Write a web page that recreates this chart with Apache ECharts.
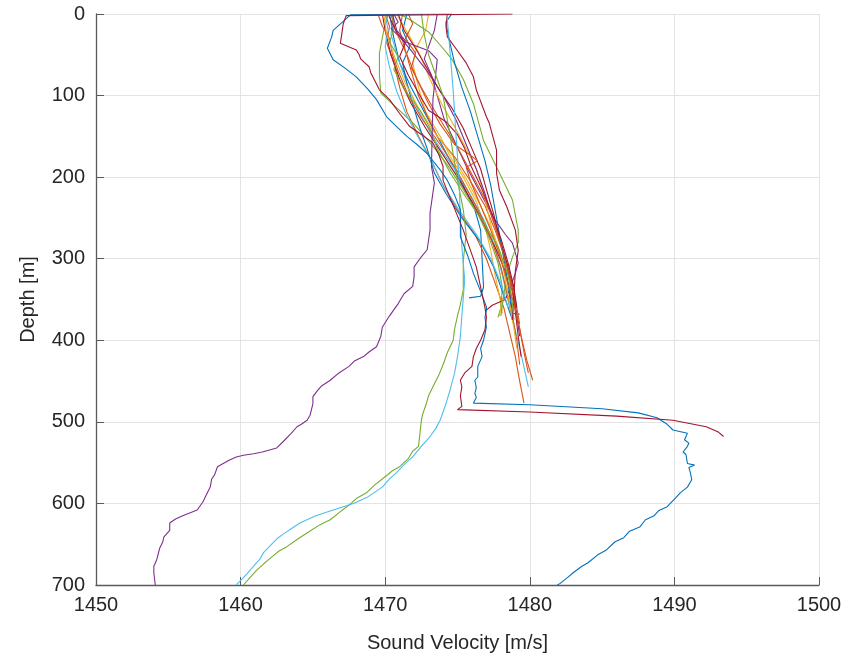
<!DOCTYPE html>
<html>
<head>
<meta charset="utf-8">
<script src="https://cdn.jsdelivr.net/npm/echarts@6/dist/echarts.min.js"></script>
<style>
html,body{margin:0;padding:0;background:#fff;}
#chart{width:849px;height:660px;}
</style>
</head>
<body>
<div id="chart"></div>
<script>
// Axis ticks
const xTicks = [1450, 1460, 1470, 1480, 1490, 1500];
const yTicks = [0, 100, 200, 300, 400, 500, 600, 700];

// MATLAB default colour order
const palette = ['#0072BD', '#D95319', '#EDB120', '#7E2F8E', '#77AC30', '#4DBEEE', '#A2142F'];

// Profiles: [sound velocity (m/s), depth (m)]
const blueLong = [[1474.6,0],[1467.6,1],[1466.4,20],[1466.3,28],[1466.0,42],[1466.4,56],[1467.2,66],[1468.0,77],[1468.8,92],[1469.4,105],[1470.1,126],[1470.9,140],[1471.5,150],[1472.2,160],[1472.9,171],[1473.8,191],[1474.3,204],[1474.8,222],[1475.2,240],[1475.2,273],[1475.7,296],[1476.1,318],[1476.6,340],[1477.0,359],[1477.0,363],[1476.9,372],[1477.0,384],[1476.8,400],[1476.6,410],[1476.7,420],[1476.4,432],[1476.4,445],[1476.2,449],[1476.3,458],[1476.2,465],[1476.3,470],[1476.1,477],[1480.0,479],[1485.0,484],[1487.5,489],[1488.8,495],[1489.5,503],[1489.9,510],[1490.9,514],[1490.7,522],[1491.0,526],[1490.9,530],[1490.6,537],[1490.8,540],[1490.9,551],[1491.4,553],[1491.0,556],[1491.1,562],[1491.2,571],[1490.9,580],[1490.4,587],[1490.1,593],[1489.5,604],[1488.9,609],[1488.6,615],[1488.0,620],[1487.6,629],[1486.9,634],[1486.5,642],[1485.9,647],[1485.3,657],[1484.7,663],[1484.0,673],[1483.6,677],[1483.0,685],[1482.6,691],[1482.1,698],[1481.9,700]];
const redLong = [[1478.8,0],[1467.3,2],[1467.1,12],[1467.0,24],[1466.9,36],[1468.0,44],[1468.2,50],[1468.3,55],[1468.9,65],[1469.0,72],[1469.6,93],[1470.3,105],[1471.0,122],[1471.7,138],[1472.6,149],[1473.3,158],[1473.7,172],[1474.0,187],[1474.0,204],[1475.4,265],[1476.3,310],[1476.9,360],[1477.0,372],[1476.9,387],[1476.6,400],[1476.3,410],[1476.1,420],[1476.0,432],[1475.5,440],[1475.3,446],[1475.2,449],[1475.3,457],[1475.2,468],[1475.3,481],[1475.0,485],[1480.0,488],[1486.0,493],[1489.9,498],[1492.2,506],[1493.0,512],[1493.4,518]];
const purpleLong = [[1470.5,0],[1470.8,20],[1471.5,35],[1473.0,45],[1473.6,56],[1473.3,105],[1473.2,187],[1473.4,207],[1473.1,244],[1473.1,265],[1472.9,289],[1472.4,300],[1472.0,310],[1472.0,322],[1471.9,334],[1471.3,343],[1470.9,355],[1470.3,370],[1469.8,384],[1469.7,395],[1469.4,408],[1468.9,414],[1468.5,420],[1467.9,425],[1467.5,432],[1466.8,440],[1466.2,449],[1465.6,456],[1465.3,462],[1465.0,469],[1465.0,478],[1464.9,485],[1464.8,492],[1464.6,498],[1464.2,503],[1463.9,506],[1463.5,514],[1462.9,525],[1462.5,532],[1461.5,537],[1460.9,539],[1460.2,541],[1459.7,543],[1459.2,547],[1458.4,555],[1458.2,565],[1458.0,570],[1457.9,580],[1457.7,587],[1457.4,598],[1457.0,608],[1456.0,615],[1455.5,619],[1455.1,624],[1455.1,633],[1454.7,641],[1454.6,648],[1454.4,655],[1454.3,662],[1454.2,669],[1454.0,677],[1454.0,685],[1454.1,700]];
const greenLong = [[1472.5,0],[1472.7,25],[1473.0,50],[1473.6,80],[1474.0,100],[1474.5,150],[1475.0,204],[1475.4,240],[1475.6,270],[1475.4,302],[1475.4,338],[1475.2,356],[1475.0,370],[1474.8,386],[1474.7,400],[1474.3,415],[1474.0,430],[1473.7,443],[1473.3,457],[1473.0,468],[1472.8,480],[1472.6,490],[1472.5,498],[1472.4,515],[1472.3,530],[1471.9,536],[1471.6,545],[1471.0,555],[1470.5,560],[1469.8,570],[1469.3,577],[1468.7,587],[1468.0,594],[1467.5,602],[1466.9,610],[1466.2,620],[1465.5,626],[1464.7,635],[1464.0,643],[1463.2,653],[1462.6,659],[1462.0,668],[1461.6,674],[1461.1,682],[1460.6,692],[1460.2,700]];
const cyanLong = [[1474.3,0],[1474.3,7],[1474.5,50],[1474.7,93],[1474.9,150],[1475.1,200],[1475.2,250],[1475.3,285],[1475.5,326],[1475.4,348],[1475.3,370],[1475.2,395],[1475.0,420],[1474.8,440],[1474.5,460],[1474.2,478],[1473.8,498],[1473.5,508],[1473.1,518],[1472.5,530],[1471.9,543],[1471.4,551],[1470.8,562],[1470.3,570],[1469.8,580],[1468.8,592],[1467.8,600],[1466.4,608],[1465.2,615],[1464.1,624],[1463.5,631],[1463.0,637],[1462.6,642],[1462.2,649],[1461.6,660],[1461.3,669],[1460.9,677],[1460.5,685],[1460.2,691],[1459.8,698],[1459.7,700]];

const orange1 = [[1470.0,0],[1470.3,15],[1470.1,35],[1470.6,60],[1471.0,90],[1471.5,120],[1472.3,150],[1473.2,180],[1474.0,210],[1475.0,240],[1476.2,270],[1477.0,300],[1477.6,330],[1478.2,360],[1478.6,390],[1479.0,420],[1479.3,450],[1479.6,477]];
const orange2 = [[1471.2,0],[1471.0,20],[1471.4,45],[1471.8,70],[1472.3,100],[1472.9,125],[1473.6,150],[1474.8,175],[1475.9,205],[1476.9,235],[1477.6,265],[1478.2,295],[1478.6,325],[1479.0,360],[1479.4,395],[1479.8,425],[1480.2,449]];
const cyan1 = [[1470.6,0],[1470.4,25],[1470.9,55],[1471.5,85],[1472.2,115],[1473.1,145],[1474.0,170],[1475.0,195],[1476.0,225],[1476.9,255],[1477.6,285],[1478.1,320],[1478.6,360],[1479.1,395],[1479.5,425],[1479.9,457]];
const yellow1 = [[1473.0,0],[1472.8,20],[1472.2,40],[1471.9,60],[1472.3,90],[1472.8,120],[1473.8,150],[1474.5,175],[1475.4,200],[1476.3,230],[1476.9,260],[1477.3,290],[1477.6,320],[1477.9,345],[1478.1,367]];
const purple1 = [[1473.6,0],[1473.4,20],[1473.0,40],[1472.7,55],[1473.2,75],[1473.6,100],[1474.1,130],[1474.9,160],[1475.7,190],[1476.6,220],[1477.5,250],[1478.3,270],[1478.8,281],[1479.2,305],[1479.0,318],[1478.6,338],[1478.8,367],[1479.3,368]];
const blue1 = [[1470.3,0],[1470.6,30],[1471.0,60],[1471.8,90],[1472.7,120],[1473.6,150],[1474.5,180],[1475.4,210],[1476.2,240],[1476.6,265],[1476.7,300],[1476.8,335],[1476.6,346],[1475.8,348]];
const red1 = [[1469.8,0],[1470.0,20],[1470.4,50],[1471.0,80],[1471.8,110],[1472.8,140],[1473.9,170],[1475.0,200],[1476.0,230],[1476.9,260],[1477.7,290],[1478.3,315],[1478.6,338],[1478.3,350],[1477.4,357],[1477.0,363]];
const green1 = [[1470.2,0],[1469.9,20],[1469.6,48],[1469.6,75],[1469.7,97],[1470.8,115],[1472.0,135],[1473.2,160],[1474.3,185],[1475.4,215],[1476.4,245],[1477.2,275],[1477.8,305],[1478.1,335],[1478.0,360],[1477.8,372]];
const orange3 = [[1469.5,0],[1469.8,15],[1470.3,30],[1470.5,50],[1470.9,70],[1471.6,100],[1472.6,130],[1473.8,160],[1474.9,190],[1475.8,220],[1476.7,250],[1477.4,280],[1478.0,310],[1478.4,340],[1478.8,370],[1479.1,400],[1479.3,430]];
const yellow2 = [[1470.8,0],[1471.6,25],[1472.4,50],[1473.1,80],[1473.9,110],[1474.7,135],[1475.6,165],[1476.3,190],[1476.8,220],[1477.2,250],[1477.6,280],[1478.3,310],[1478.5,335],[1478.1,350],[1477.9,370]];
const red2 = [[1470.9,0],[1471.3,20],[1472.2,45],[1473.0,70],[1473.8,95],[1474.6,115],[1475.4,140],[1476.0,165],[1476.6,190],[1477.0,215],[1477.5,245],[1477.9,275],[1478.4,305],[1478.8,335],[1479.0,365],[1479.2,395],[1479.4,420]];
const blue2 = [[1471.5,0],[1471.2,20],[1471.7,40],[1471.2,60],[1471.5,85],[1471.9,110],[1472.4,140],[1472.9,165],[1473.4,195],[1474.2,220],[1475.3,250],[1476.6,280],[1477.5,310],[1478.2,345],[1478.9,380]];
const purple2 = [[1470.6,0],[1470.9,10],[1470.4,18],[1471.0,28],[1471.8,45],[1472.9,70],[1474.0,100],[1474.9,130],[1475.6,160],[1476.3,190],[1476.9,220],[1477.4,250],[1478.0,280],[1478.5,310],[1478.9,340],[1479.1,370],[1479.3,395]];
const cyan2 = [[1470.0,0],[1470.2,20],[1470.0,40],[1470.3,65],[1470.8,95],[1471.5,125],[1472.4,155],[1473.2,180],[1474.0,210],[1475.1,240],[1476.3,270],[1477.3,300],[1478.0,330],[1478.5,360]];
const greenRight = [[1471.0,0],[1471.8,8],[1473.0,22],[1473.8,38],[1474.6,55],[1475.4,80],[1476.1,110],[1476.8,155],[1477.9,195],[1478.8,228],[1479.2,265],[1479.2,280],[1478.8,298],[1478.4,320],[1478.2,345],[1478.0,370]];
const redRight = [[1474.3,0],[1474.2,15],[1474.3,28],[1475.0,45],[1475.6,60],[1476.1,77],[1476.3,93],[1477.0,126],[1477.2,134],[1477.7,167],[1477.7,195],[1477.9,216],[1478.4,236],[1479.0,265],[1479.2,290],[1479.0,315],[1478.9,345],[1478.8,375]];
const yellow3 = [[1469.9,0],[1470.1,25],[1470.7,55],[1471.4,85],[1472.3,115],[1473.4,145],[1474.7,175],[1475.7,205],[1476.6,235],[1477.4,265],[1478.0,295],[1478.3,325],[1478.6,355],[1478.9,385],[1479.1,410]];
const orange4 = [[1470.4,0],[1470.7,20],[1471.5,50],[1472.2,80],[1473.0,110],[1473.8,135],[1474.8,160],[1475.8,172],[1476.4,180],[1475.6,188],[1475.9,205],[1476.6,235],[1477.3,265],[1477.9,295],[1478.4,325],[1478.9,355],[1479.3,385],[1479.6,415],[1479.9,440]];
const blue3 = [[1474.6,0],[1474.2,10],[1474.4,30],[1474.8,60],[1475.3,90],[1475.9,120],[1476.4,150],[1476.9,180],[1477.3,210],[1477.6,240],[1477.9,270],[1478.2,300],[1478.5,330],[1478.7,360]];
const green2 = [[1470.5,0],[1470.6,18],[1470.3,35],[1470.9,52],[1470.6,68],[1471.3,92],[1472.4,118],[1473.1,140],[1473.6,165],[1474.5,195],[1475.6,225],[1476.8,255],[1477.8,285],[1478.5,320],[1478.8,355],[1478.9,375]];
const orange5 = [[1471.6,0],[1471.9,12],[1471.4,30],[1472.1,48],[1471.8,66],[1472.5,90],[1473.4,118],[1474.1,138],[1474.6,152],[1475.2,170],[1476.1,200],[1477.0,230],[1477.6,260],[1478.1,290],[1478.6,320],[1479.0,350],[1479.3,380]];
const red3 = [[1470.2,0],[1470.5,12],[1470.9,25],[1471.4,35],[1471.0,52],[1471.6,75],[1472.4,100],[1473.0,118],[1474.2,132],[1475.0,148],[1475.5,165],[1475.9,185],[1476.7,215],[1477.4,245],[1478.0,275],[1478.5,305],[1478.9,335],[1479.1,360]];

const profiles = [
  {data: blue1, c: 0}, {data: orange1, c: 1}, {data: yellow1, c: 2}, {data: purple1, c: 3},
  {data: green1, c: 4}, {data: cyan1, c: 5}, {data: red1, c: 6},
  {data: blue2, c: 0}, {data: orange2, c: 1}, {data: yellow2, c: 2}, {data: purple2, c: 3},
  {data: greenRight, c: 4}, {data: cyan2, c: 5}, {data: red2, c: 6},
  {data: blue3, c: 0}, {data: orange3, c: 1}, {data: yellow3, c: 2}, {data: redRight, c: 6},
  {data: orange4, c: 1}, {data: green2, c: 4}, {data: orange5, c: 1}, {data: red3, c: 6},
  {data: purpleLong, c: 3}, {data: greenLong, c: 4}, {data: cyanLong, c: 5},
  {data: blueLong, c: 0}, {data: redLong, c: 6}
];

const chart = echarts.init(document.getElementById('chart'), null, {renderer: 'canvas'});
const font = 'Liberation Sans, Arial, sans-serif';
chart.setOption({
  animation: false,
  backgroundColor: '#ffffff',
  grid: {left: 96, right: 30, top: 14, bottom: 75, containLabel: false},
  xAxis: {
    type: 'value', position: 'bottom', min: xTicks[0], max: xTicks[xTicks.length - 1], interval: 10,
    name: 'Sound Velocity [m/s]', nameLocation: 'middle', nameGap: 48,
    nameTextStyle: {fontSize: 20, color: '#262626', fontFamily: font},
    axisLine: {show: true, onZero: false, lineStyle: {color: '#5a5a5a', width: 1.3}},
    axisTick: {show: true, inside: true, length: 8, lineStyle: {color: '#5a5a5a'}},
    axisLabel: {fontSize: 20, color: '#262626', fontFamily: font, margin: 10, formatter: v => String(v)},
    splitLine: {show: true, lineStyle: {color: '#e3e3e3', width: 1}}
  },
  yAxis: {
    type: 'value', position: 'left', inverse: true, min: yTicks[0], max: yTicks[yTicks.length - 1], interval: 100,
    name: 'Depth [m]', nameLocation: 'middle', nameGap: 58, nameRotate: 90,
    nameTextStyle: {fontSize: 20, color: '#262626', fontFamily: font},
    axisLine: {show: true, onZero: false, lineStyle: {color: '#5a5a5a', width: 1.3}},
    axisTick: {show: true, inside: true, length: 8, lineStyle: {color: '#5a5a5a'}},
    axisLabel: {fontSize: 20, color: '#262626', fontFamily: font, margin: 11, formatter: v => String(v)},
    splitLine: {show: true, lineStyle: {color: '#e3e3e3', width: 1}}
  },
  series: profiles.map((p, i) => ({
    type: 'line', name: 'p' + i, data: p.data, showSymbol: false, symbol: 'none',
    lineStyle: {color: palette[p.c], width: 1.1}, itemStyle: {color: palette[p.c]},
    clip: true, z: 2
  }))
});
</script>
</body>
</html>
